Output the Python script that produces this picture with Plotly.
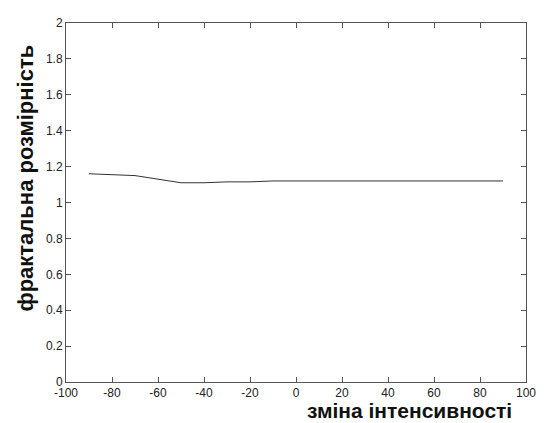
import plotly.graph_objects as go

x_vals = [-90, -80, -70, -60, -50, -40, -30, -20, -10, 0, 10, 20, 30, 40, 50, 60, 70, 80, 90]
y_vals = [1.16, 1.155, 1.15, 1.13, 1.11, 1.11, 1.115, 1.115, 1.12, 1.12, 1.12, 1.12, 1.12, 1.12, 1.12, 1.12, 1.12, 1.12, 1.12]

x_ticks = [-100, -80, -60, -40, -20, 0, 20, 40, 60, 80, 100]
y_ticks = [0, 0.2, 0.4, 0.6, 0.8, 1, 1.2, 1.4, 1.6, 1.8, 2]
y_tick_text = ["0", "0.2", "0.4", "0.6", "0.8", "1", "1.2", "1.4", "1.6", "1.8", "2"]

fig = go.Figure()
fig.add_trace(go.Scatter(x=x_vals, y=y_vals, mode="lines",
                         line=dict(color="#333333", width=1), showlegend=False))

axis_common = dict(showgrid=False, zeroline=False, showline=True, linecolor="#555555",
                   linewidth=1, mirror="ticks", ticks="inside", ticklen=5,
                   tickcolor="#555555", tickfont=dict(family="Liberation Sans, Arial", size=12, color="#222222"))

PL, PT, PW, PH = 66, 16, 467, 366  # plot area in window pixels

fig.update_layout(
    width=536, height=415,
    margin=dict(l=58, r=11, t=8, b=41),
    paper_bgcolor="white", plot_bgcolor="white",
    xaxis=dict(range=[-100, 100], tickvals=x_ticks, ticktext=[str(v) for v in x_ticks], **axis_common),
    yaxis=dict(range=[0, 2], tickvals=y_ticks, ticktext=y_tick_text, **axis_common),
    annotations=[
        dict(text="<b>зміна інтенсивності</b>", showarrow=False,
             xref="paper", yref="paper",
             x=(415 - PL) / PW, y=-(411 - (PT + PH)) / PH, xanchor="center", yanchor="middle",
             font=dict(family="Liberation Sans, Arial", size=21, color="#111111")),
        dict(text="<b>фрактальна розмірність</b>", showarrow=False, textangle=-90,
             xref="paper", yref="paper",
             x=(25 - PL) / PW, y=((PT + PH) - 174) / PH, xanchor="center", yanchor="middle",
             font=dict(family="Liberation Sans, Arial", size=22, color="#111111")),
    ],
)

fig.write_html("out.html")
